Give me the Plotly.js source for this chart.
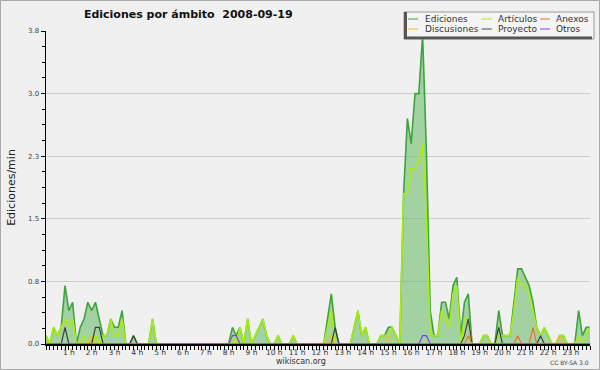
<!DOCTYPE html>
<html><head><meta charset="utf-8">
<script src="https://cdn.plot.ly/plotly-3.0.1.min.js"></script>
<style>html,body{margin:0;padding:0;background:#f0f0f0}#chart{width:600px;height:370px}</style>
</head><body><div id="chart"></div>
<script>
// 10-minute bins, values in edits per minute
const ediciones = [
0.1,0,0.2,0.1,0.2,0.7,0.4,0.5,0,0.2,0.3,0.5,
0.4,0.5,0.3,0.1,0.1,0.3,0.2,0.2,0.4,0,0,0.1,
0,0,0,0,0.3,0,0,0,0,0,0,0,
0,0,0,0,0,0,0,0,0,0,0,0,
0,0.2,0.1,0.2,0,0.3,0,0.1,0.2,0.3,0.1,0,
0,0.1,0,0,0,0.1,0,0,0,0,0,0,
0,0,0.3,0.6,0.2,0,0,0,0,0.2,0.4,0.1,
0.2,0,0,0,0.1,0.1,0.2,0.2,0.1,0,1.8,2.7,
2.4,3.0,3.0,3.7,2.3,0.4,0.1,0.1,0.5,0.5,0.3,0.7,
0.8,0.1,0.5,0.6,0,0,0,0.1,0.1,0,0,0.4,
0.1,0.1,0.1,0.5,0.9,0.9,0.8,0.7,0.5,0.2,0.1,0.2,
0.1,0,0,0.1,0.1,0,0,0,0.4,0.1,0.2,0.2];
const articulos = [
0.1,0,0.2,0.1,0.2,0.3,0.2,0.3,0,0,0.1,0,
0,0.1,0,0.1,0.1,0.3,0.1,0.1,0.3,0,0,0,
0,0,0,0,0.3,0,0,0,0,0,0,0,
0,0,0,0,0,0,0,0,0,0,0,0,
0,0.1,0,0.2,0,0.3,0,0.1,0.2,0.3,0.1,0,
0,0.1,0,0,0,0.1,0,0,0,0,0,0,
0,0,0.2,0.4,0,0,0,0,0,0.2,0.4,0.1,
0.2,0,0,0,0.1,0.1,0.1,0.2,0.1,0,1.8,1.8,
2.1,2.1,2.2,2.4,1.5,0.1,0.1,0.1,0.4,0.3,0.2,0.6,
0.7,0,0.3,0.3,0,0,0,0.1,0.1,0,0,0.1,
0.1,0.1,0.1,0.4,0.8,0.7,0.7,0.6,0.4,0.2,0.1,0.2,
0.1,0,0,0.1,0.1,0,0,0,0.1,0,0.1,0.2];
const discusiones = [
0,0,0,0,0,0,0,0,0,0,0,0,
0.1,0,0,0,0,0,0,0,0,0,0,0,
0,0,0,0,0,0,0,0,0,0,0,0,
0,0,0,0,0,0,0,0,0,0,0,0,
0,0,0,0,0,0,0,0,0,0,0,0,
0,0,0,0,0,0,0,0,0,0,0,0,
0,0,0,0.1,0,0,0,0,0,0,0,0,
0,0,0,0,0,0,0.1,0,0,0,0,0,
0,0,0,0,0,0,0,0,0,0,0,0,
0,0,0,0,0,0,0,0,0,0,0,0,
0,0,0,0,0,0,0,0,0,0,0,0,
0,0,0,0.1,0,0,0,0,0,0,0,0];
const proyecto = [
0,0,0,0,0,0.2,0,0,0,0,0,0,
0,0.2,0.2,0,0,0,0,0,0,0,0,0.1,
0,0,0,0,0,0,0,0,0,0,0,0,
0,0,0,0,0,0,0,0,0,0,0,0,
0,0,0,0,0,0,0,0,0,0,0,0,
0,0,0,0,0,0,0,0,0,0,0,0,
0,0,0,0,0.2,0,0,0,0,0,0,0,
0,0,0,0,0,0,0,0,0,0,0,0,
0,0,0,0,0,0,0,0,0,0,0,0,
0,0,0.1,0.3,0,0,0,0,0,0,0,0.2,
0,0,0,0,0,0,0,0,0,0,0.1,0,
0,0,0,0,0,0,0,0,0,0,0,0];
const anexos = [
0,0,0,0,0,0,0,0,0,0,0,0,
0,0,0,0,0,0,0,0,0,0,0,0,
0,0,0,0,0,0,0,0,0,0,0,0,
0,0,0,0,0,0,0,0,0,0,0,0,
0,0,0,0,0,0,0,0,0,0,0,0,
0,0,0,0,0,0,0,0,0,0,0,0,
0,0,0,0,0,0,0,0,0,0,0,0,
0,0,0,0,0,0,0,0,0,0,0,0,
0,0,0,0,0,0,0,0,0,0,0,0,
0,0,0,0.1,0,0,0,0,0,0,0,0,
0,0,0,0,0.1,0,0,0,0.2,0,0,0,
0,0,0,0,0,0,0,0,0,0,0,0];
const otros = [
0,0,0,0,0,0,0,0,0,0,0,0,
0,0,0,0,0,0,0,0,0,0,0,0,
0,0,0,0,0,0,0,0,0,0,0,0,
0,0,0,0,0,0,0,0,0,0,0,0,
0,0.1,0.1,0,0,0,0,0,0,0,0,0,
0,0,0,0,0,0,0,0,0,0,0,0,
0,0,0,0,0,0,0,0,0,0,0,0,
0,0,0,0,0,0,0,0,0,0,0,0,
0,0,0,0.1,0.1,0,0,0,0,0,0,0,
0,0,0,0,0,0,0,0,0,0,0,0,
0,0,0,0,0,0,0,0,0,0,0,0,
0,0,0,0,0,0,0,0,0,0,0,0];

const hourTicks = [1,2,3,4,5,6,7,8,9,10,11,12,13,14,15,16,17,18,19,20,21,22,23];
const hourLabels = ['1 h','2 h','3 h','4 h','5 h','6 h','7 h','8 h','9 h','10 h','11 h','12 h','13 h','14 h','15 h','16 h','17 h','18 h','19 h','20 h','21 h','22 h','23 h'];
const yTickVals = [0,0.75,1.5,2.25,3,3.75];
const yTickText = ['0.0','0.8','1.5','2.3','3.0','3.8'];

const seriesNames = ['Ediciones','Artículos','Discusiones','Proyecto','Anexos','Otros'];
const seriesColors = ['#3fa33f','#aaee11','#f2c01e','#404040','#f07028','#8a3ee6'];
const seriesData = [ediciones, articulos, discusiones, proyecto, anexos, otros];

const hours = ediciones.map((_, i) => i / 6); // bin start, in hours

const traces = seriesData.map((ys, k) => ({
  type: 'scatter', mode: 'lines', x: hours, y: ys, name: seriesNames[k],
  line: {color: seriesColors[k], width: k < 2 ? 1.6 : 1.2},
  fill: k === 0 ? 'tozeroy' : 'none',
  fillcolor: k === 0 ? 'rgba(110,190,110,0.6)' : undefined,
  hoverinfo: 'skip'
}));

// pixel -> paper helpers (plot area: x 46..590, y 31..344)
const L = 46, T = 31, W = 544, H = 313;
const px = x => (x - L) / W;
const py = y => (T + H - y) / H;
const font = 'DejaVu Sans';

const shapes = [
  {type:'rect', xref:'paper', yref:'paper', x0:px(0.5), x1:px(599.5), y0:py(0.5), y1:py(369.5), line:{color:'#a8a8a8', width:1}, layer:'below'},
  {type:'rect', xref:'paper', yref:'paper', x0:px(404), x1:px(594), y0:py(39), y1:py(12), fillcolor:'#f4f4f4', line:{color:'#9a9a9a', width:1}},
  {type:'rect', xref:'paper', yref:'paper', x0:px(404), x1:px(407), y0:py(39), y1:py(12), fillcolor:'#555555', line:{width:0}},
  {type:'rect', xref:'paper', yref:'paper', x0:px(404), x1:px(592), y0:py(39.3), y1:py(36.5), fillcolor:'#555555', line:{width:0}}
];
const annotations = [
  {text:'wikiscan.org', xref:'paper', yref:'paper', x:px(300.5), y:py(361.5), xanchor:'center', yanchor:'middle', showarrow:false, font:{family:font, size:8, color:'#333'}},
  {text:'CC BY-SA 3.0', xref:'paper', yref:'paper', x:px(569.7), y:py(362), xanchor:'center', yanchor:'middle', showarrow:false, font:{family:font, size:6, color:'#444'}}
];
// legend, 3 columns x 2 rows
const legendOrder = [0,2,1,3,4,5]; // column-major
const colLineX = [408, 481.7, 540];
const colTextX = [422.5, 495.5, 554];
const rowY = [19, 29];
legendOrder.forEach((k, n) => {
  const c = Math.floor(n / 2), r = n % 2;
  shapes.push({type:'line', xref:'paper', yref:'paper', x0:px(colLineX[c]), x1:px(colLineX[c] + 10), y0:py(rowY[r]), y1:py(rowY[r]), line:{color:seriesColors[k], width:1}});
  annotations.push({text:seriesNames[k], xref:'paper', yref:'paper', x:px(colTextX[c]), y:py(rowY[r]), xanchor:'left', yanchor:'middle', showarrow:false, font:{family:font, size:9, color:'#333'}});
});

const layout = {
  width: 600, height: 370,
  margin: {l: L, r: 600 - L - W, t: T, b: 370 - T - H},
  paper_bgcolor: '#f0f0f0', plot_bgcolor: '#f0f0f0',
  showlegend: false,
  title: {text: '<b>Ediciones por ámbito\u00a0 2008-09-19</b>', x: 188.3/600, xanchor: 'center', y: 1 - 14/370, yanchor: 'middle', font: {family: font, size: 11, color: '#111'}},
  xaxis: {range: [0, 143/6], tickvals: hourTicks, ticktext: hourLabels, ticks: 'outside', ticklen: 4, tickcolor: '#000',
          showline: true, linecolor: '#000', linewidth: 2, showgrid: false, zeroline: false,
          ticklabelstandoff: -4,
          tickfont: {family: font, size: 7.5, color: '#333'},
          minor: {dtick: 1/6, tick0: 0, ticks: 'outside', ticklen: 4, tickcolor: '#000', showgrid: false}},
  yaxis: {range: [0, 3.75], tickvals: yTickVals, ticktext: yTickText, ticks: 'outside', ticklen: 4, tickcolor: '#000',
          showline: true, linecolor: '#000', linewidth: 1.5, showgrid: true, gridcolor: '#cccccc', gridwidth: 1, zeroline: false,
          tickfont: {family: font, size: 7, color: '#444'},
          minor: {dtick: 0.1875, tick0: 0, ticks: 'outside', ticklen: 3, tickcolor: '#000', showgrid: false},
          title: {text: 'Ediciones/min', font: {family: font, size: 11, color: '#222'}, standoff: 10}},
  shapes: shapes, annotations: annotations
};
Plotly.newPlot('chart', traces, layout, {displayModeBar: false, staticPlot: true});
</script></body></html>
